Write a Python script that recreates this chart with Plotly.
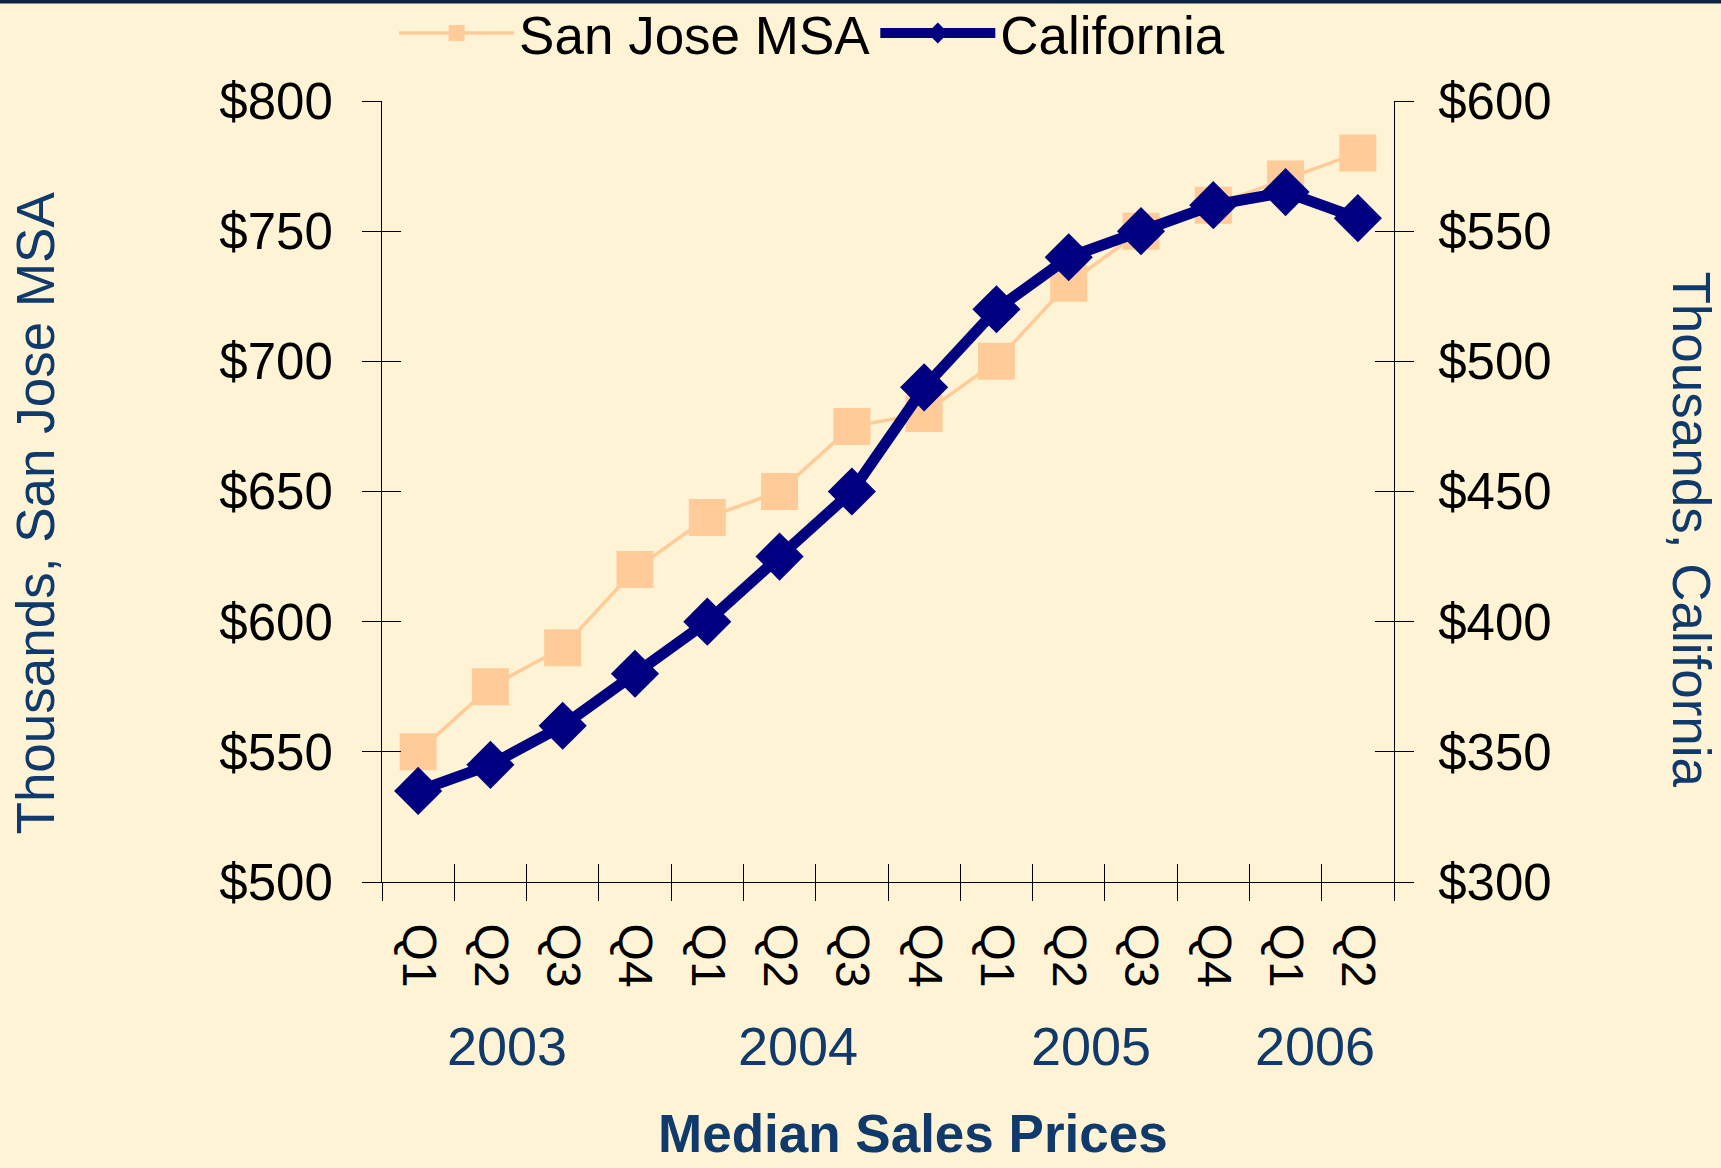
import plotly.graph_objects as go

# ---- data ----
years = ["2003", "2003", "2003", "2003", "2004", "2004", "2004", "2004",
         "2005", "2005", "2005", "2005", "2006", "2006"]
quarters = ["Q1", "Q2", "Q3", "Q4", "Q1", "Q2", "Q3", "Q4",
            "Q1", "Q2", "Q3", "Q4", "Q1", "Q2"]
san_jose = [550, 575, 590, 620, 640, 650, 675, 680, 700, 730, 750, 760, 770, 780]
california = [335, 345, 360, 380, 400, 425, 450, 490, 520, 540, 550, 560, 565, 555]
left_ticks = [500, 550, 600, 650, 700, 750, 800]
right_ticks = [300, 350, 400, 450, 500, 550, 600]
year_labels = ["2003", "2004", "2005", "2006"]
year_label_pos = [1.23, 5.26, 9.31, 12.41]

# ---- style ----
FONT = "Liberation Sans, Arial, sans-serif"
BG = "#FEF3D5"
NAVY_TEXT = "#0F3A6B"
PEACH = "#FFCC99"
NAVY = "#000080"
AX = "#000000"

n = len(quarters)
xi = list(range(n))
bounds = [i - 0.5 for i in range(n + 1)]
xr = [-0.5, n - 0.5]
left_text = ["$" + str(v) for v in left_ticks]
right_text = ["$" + str(v) for v in right_ticks]

fig = go.Figure()
fig.add_trace(go.Scatter(
    x=xi, y=san_jose, name="San Jose MSA", mode="lines+markers",
    line=dict(color=PEACH, width=3.5),
    marker=dict(symbol="square", size=37, color=PEACH),
    xaxis="x", yaxis="y"))
fig.add_trace(go.Scatter(
    x=xi, y=california, name="California", mode="lines+markers",
    line=dict(color=NAVY, width=11),
    marker=dict(symbol="diamond", size=37, color=NAVY),
    xaxis="x", yaxis="y2"))
# empty traces so that the overlay axes (inner half of the crossing ticks) get drawn
fig.add_trace(go.Scatter(x=[], y=[], xaxis="x2", yaxis="y3", showlegend=False, hoverinfo="skip"))
fig.add_trace(go.Scatter(x=[], y=[], xaxis="x3", yaxis="y4", showlegend=False, hoverinfo="skip"))

tickfont = dict(family=FONT, size=51, color="#000000")

fig.update_layout(
    width=1721, height=1168,
    paper_bgcolor=BG, plot_bgcolor=BG,
    margin=dict(l=382, r=327, t=101, b=286, autoexpand=False),
    showlegend=True,
    legend=dict(orientation="h", x=0.425, xanchor="center", y=1.087, yanchor="middle",
                font=dict(family=FONT, size=53, color="#000000"),
                bgcolor="rgba(0,0,0,0)", itemsizing="trace", itemwidth=115),
    xaxis=dict(range=xr, tickmode="array", tickvals=xi, ticktext=quarters,
               tickangle=90, ticks="", showline=True, linecolor=AX, linewidth=1,
               showgrid=False, zeroline=False, tickfont=dict(family=FONT, size=48, color="#000000"),
               ticklabelstandoff=31),
    xaxis2=dict(range=xr, overlaying="x", anchor="y", side="bottom", tickmode="array",
                tickvals=bounds, ticks="outside", ticklen=18, tickcolor=AX, tickwidth=1,
                showticklabels=False, showgrid=False, zeroline=False, showline=False),
    xaxis3=dict(range=xr, overlaying="x", anchor="y", side="bottom", tickmode="array",
                tickvals=bounds, ticks="inside", ticklen=18, tickcolor=AX, tickwidth=1,
                showticklabels=False, showgrid=False, zeroline=False, showline=False),
    yaxis=dict(range=[left_ticks[0], left_ticks[-1]], tickmode="array", tickvals=left_ticks,
               ticktext=left_text, ticks="outside", ticklen=19, tickcolor=AX, tickwidth=1,
               showline=True, linecolor=AX, linewidth=1, showgrid=False, zeroline=False,
               tickfont=tickfont, ticklabelstandoff=19),
    yaxis2=dict(range=[right_ticks[0], right_ticks[-1]], tickmode="array", tickvals=right_ticks,
                ticktext=right_text, overlaying="y", side="right", anchor="x",
                ticks="outside", ticklen=19, tickcolor=AX, tickwidth=1,
                showline=True, linecolor=AX, linewidth=1, showgrid=False, zeroline=False,
                tickfont=tickfont, ticklabelstandoff=14),
    yaxis3=dict(range=[left_ticks[0], left_ticks[-1]], tickmode="array", tickvals=left_ticks,
                overlaying="y", side="left", anchor="x", ticks="inside", ticklen=19,
                tickcolor=AX, tickwidth=1, showticklabels=False, showgrid=False,
                zeroline=False, showline=False),
    yaxis4=dict(range=[right_ticks[0], right_ticks[-1]], tickmode="array", tickvals=right_ticks,
                overlaying="y", side="right", anchor="x", ticks="inside", ticklen=19,
                tickcolor=AX, tickwidth=1, showticklabels=False, showgrid=False,
                zeroline=False, showline=False),
)

annotations = []
for lab, pos in zip(year_labels, year_label_pos):
    annotations.append(dict(text=lab, x=pos, xref="x", y=-0.21, yref="paper",
                            xanchor="center", yanchor="middle", showarrow=False,
                            font=dict(family=FONT, size=54, color=NAVY_TEXT)))
annotations.append(dict(text="Thousands, San Jose MSA", x=-0.342, xref="paper", y=0.473,
                        yref="paper", textangle=-90, showarrow=False,
                        xanchor="center", yanchor="middle",
                        font=dict(family=FONT, size=53, color=NAVY_TEXT)))
annotations.append(dict(text="Thousands, California", x=1.293, xref="paper", y=0.452,
                        yref="paper", textangle=90, showarrow=False,
                        xanchor="center", yanchor="middle",
                        font=dict(family=FONT, size=53, color=NAVY_TEXT)))
annotations.append(dict(text="<b>Median Sales Prices</b>", x=0.525, xref="paper", y=-0.322,
                        yref="paper", showarrow=False, xanchor="center", yanchor="middle",
                        font=dict(family=FONT, size=53, color=NAVY_TEXT)))
fig.update_layout(annotations=annotations)

# thin dark band across the top edge of the slide
fig.add_shape(type="rect", xref="paper", yref="paper",
              x0=-0.4, x1=1.4, y0=1.125, y1=1.14,
              fillcolor="#0B2645", line=dict(width=0), layer="above")

fig.write_html("out.html", config={"displayModeBar": False},
               post_script="document.body.style.margin='0';")
